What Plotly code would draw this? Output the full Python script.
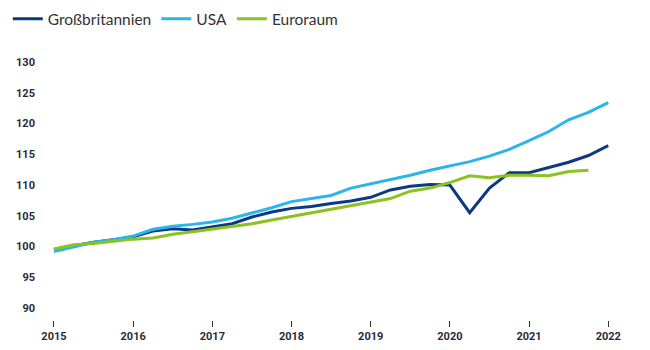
import plotly.graph_objects as go

quarters = [2015 + i * 0.25 for i in range(29)]
uk = [99.5, 100.1, 100.7, 101.1, 101.6, 102.5, 102.9, 102.7, 103.2, 103.7, 104.8, 105.6,
      106.2, 106.5, 107.0, 107.4, 108.0, 109.2, 109.8, 110.1, 110.0, 105.5, 109.5, 112.0,
      112.0, 112.8, 113.7, 114.8, 116.4]
usa = [99.2, 99.9, 100.7, 101.1, 101.7, 102.8, 103.3, 103.6, 104.0, 104.6, 105.4, 106.3,
       107.3, 107.8, 108.3, 109.5, 110.2, 110.8, 111.6, 112.4, 113.1, 113.8, 114.7, 115.8,
       117.2, 118.7, 120.6, 121.8, 123.4]
euro = [99.6, 100.3, 100.5, 100.9, 101.2, 101.4, 102.0, 102.4, 102.8, 103.2, 103.7, 104.3,
        104.9, 105.5, 106.0, 106.7, 107.3, 107.8, 109.0, 109.5, 110.4, 111.5, 111.2, 111.6,
        111.6, 111.5, 112.2, 112.4]
year_ticks = [2015, 2016, 2017, 2018, 2019, 2020, 2021, 2022]
y_ticks = [90, 95, 100, 105, 110, 115, 120, 125, 130]

names = ["Großbritannien", "USA", "Euroraum"]
colors = ["#0b3a83", "#2bb5e9", "#8bc220"]

fig = go.Figure()
for name, vals, col in zip(names, [uk, usa, euro], colors):
    fig.add_trace(go.Scatter(x=quarters[:len(vals)], y=vals, mode="lines", name=name,
                             line=dict(color=col, width=3)))

fig.update_layout(
    width=650, height=350,
    margin=dict(l=36, r=18, t=55, b=30, autoexpand=False),
    plot_bgcolor="white", paper_bgcolor="white",
    showlegend=True,
    legend=dict(orientation="h", xref="container", yref="container", x=0.012, y=0.945,
                xanchor="left", yanchor="middle",
                font=dict(family="Lato", size=15.5, color="#333333"),
                itemwidth=30, tracegroupgap=0),
    xaxis=dict(range=[2014.773, 2022.3], tickvals=year_ticks, ticktext=[str(y) for y in year_ticks],
               showgrid=False, zeroline=False, showline=False, automargin=False,
               ticks="outside", ticklen=6, tickwidth=1, tickcolor="#333333",
               tickfont=dict(family="Roboto", size=11, color="#2a2a3a", weight="bold")),
    yaxis=dict(range=[88.05, 131.14], tickvals=y_ticks, automargin=False,
               showgrid=False, zeroline=False, showline=False, ticks="",
               tickfont=dict(family="Roboto", size=11, color="#2a2a3a", weight="bold")),
)

fig.write_html("out.html")
